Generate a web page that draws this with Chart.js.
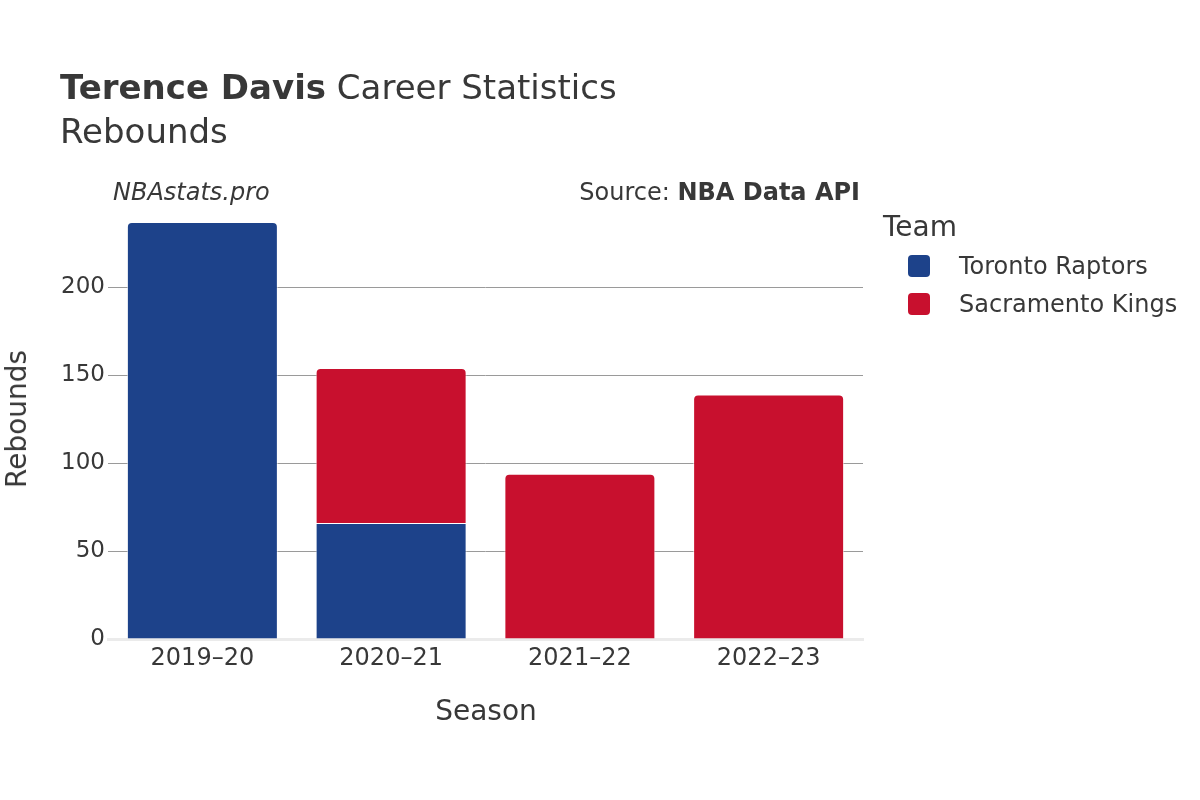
<!DOCTYPE html>
<html>
<head>
<meta charset="utf-8">
<script src="https://cdn.jsdelivr.net/npm/chart.js@4"></script>
<style>
  html, body { margin: 0; padding: 0; background: #fff; }
  #wrap { position: relative; width: 1200px; height: 800px; font-family: "DejaVu Sans", sans-serif; color: #383838; }
  #chart { position: absolute; left: 0; top: 0; }
  .txt { position: absolute; white-space: nowrap; line-height: 1; }
  .title { left: 60px; top: 70px; font-size: 34px; }
  .subtitle { left: 60px; top: 114px; font-size: 34px; }
  .credit { left: 113px; top: 180px; font-size: 24px; font-style: italic; }
  .source { right: 340px; top: 180px; font-size: 24px; }
  .ytitle { left: 17px; top: 419px; font-size: 28px; transform: translate(-50%, -50%) rotate(-90deg); }
  .xtitle { left: 486px; top: 697px; font-size: 28px; transform: translateX(-50%); }
  .legend-title { left: 883px; top: 213px; font-size: 28px; }
  .legend-item { left: 908px; font-size: 24px; }
  .legend-item span.sw { display: inline-block; width: 22px; height: 22px; border-radius: 4px; vertical-align: middle; margin-right: 29px; }
  .legend-item span.lb { vertical-align: middle; }
</style>
</head>
<body>
<div id="wrap">
  <canvas id="chart" width="1200" height="800"></canvas>
  <div class="txt title"><b>Terence Davis</b> Career Statistics</div>
  <div class="txt subtitle">Rebounds</div>
  <div class="txt credit">NBAstats.pro</div>
  <div class="txt source">Source: <b>NBA Data API</b></div>
  <div class="txt ytitle">Rebounds</div>
  <div class="txt xtitle">Season</div>
  <div class="txt legend-title">Team</div>
  <div id="legend"></div>
</div>
<script>
// ── Data ─────────────────────────────────────────────
const SEASONS = ['2019–20', '2020–21', '2021–22', '2022–23'];
const TEAMS = ['Toronto Raptors', 'Sacramento Kings'];
const TEAM_COLORS = ['#1D428A', '#C8102E'];
const TORONTO_REB = [237, 66, null, null];
const SACRAMENTO_REB = [null, 88, 94, 139];
const Y_TICKS = [0, 50, 100, 150, 200];

// Legend (HTML)
const legend = document.getElementById('legend');
legend.innerHTML = TEAMS.map((t, i) => `
  <div class="txt legend-item" style="top:${253 + i * 38}px;">
    <span class="sw" style="background:${TEAM_COLORS[i]};"></span><span class="lb">${t}</span>
  </div>`).join('');

const ctx = document.getElementById('chart').getContext('2d');
new Chart(ctx, {
    type: 'bar',
    data: {
        labels: SEASONS,
        datasets: [
            { label: TEAMS[0], data: TORONTO_REB, backgroundColor: TEAM_COLORS[0] },
            { label: TEAMS[1], data: SACRAMENTO_REB, backgroundColor: TEAM_COLORS[1] }
        ]
    },
    options: {
        responsive: false,
        animation: false,
        layout: { padding: { left: 0, right: 337, top: 201, bottom: 0 } },
        datasets: {
            bar: {
                categoryPercentage: 0.8, barPercentage: 1,
                borderRadius: 5, borderWidth: 1, borderColor: 'rgba(255,255,255,0.6)', borderSkipped: 'start'
            }
        },
        plugins: { legend: { display: false }, tooltip: { enabled: false } },
        scales: {
            x: {
                stacked: true,
                grid: { display: false, drawTicks: false },
                border: { color: '#ebebeb', width: 3 },
                ticks: { color: '#383838', font: { family: 'DejaVu Sans', size: 24 }, padding: 5 },
                afterFit: s => { s.height = 161; }
            },
            y: {
                stacked: true,
                min: 0, max: 249,
                afterBuildTicks: s => { s.ticks = Y_TICKS.map(v => ({ value: v })); },
                grid: {
                    drawTicks: false,
                    color: c => (c.tick && c.tick.value === 0) ? 'rgba(0,0,0,0)' : '#9a9a9a',
                    lineWidth: 1
                },
                border: { display: false },
                ticks: { color: '#383838', font: { family: 'DejaVu Sans', size: 23 }, padding: 3 },
                afterFit: s => { s.width = 108; }
            }
        }
    }
});
</script>
</body>
</html>
